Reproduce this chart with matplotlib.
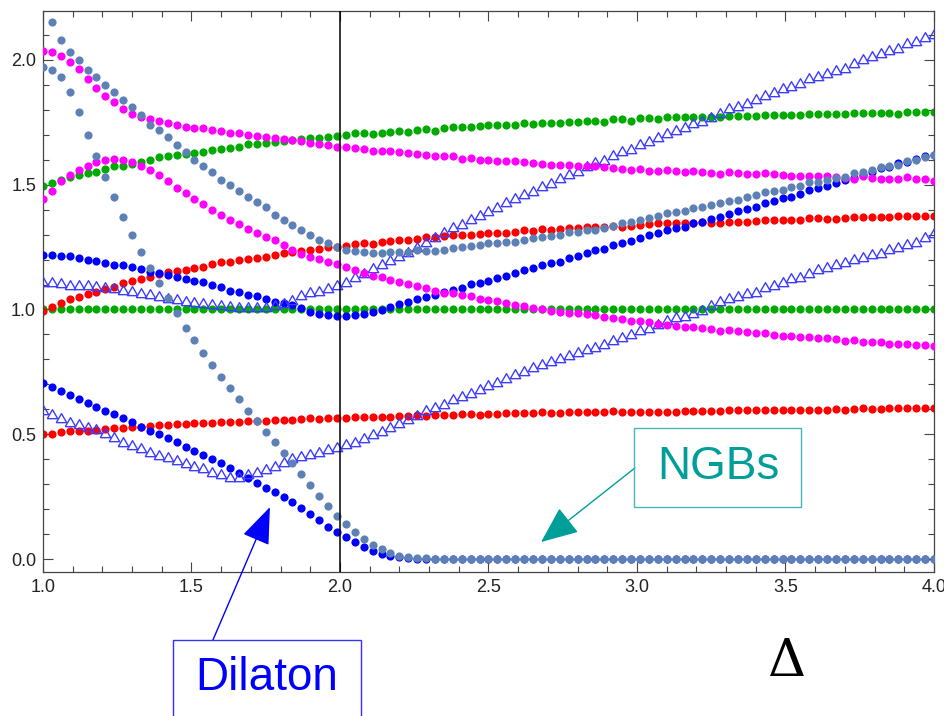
import numpy as np
import matplotlib
matplotlib.use("Agg")
import matplotlib.pyplot as plt
from matplotlib.patches import Rectangle
from matplotlib.ticker import MultipleLocator

# Delta grid (step 0.03 from 1.0 to 4.0)
delta = np.round(1.0 + 0.03 * np.arange(101), 2)

sb_upper = [2.24, 2.15, 2.08, 2.03, 2.00, 1.96, 1.93, 1.90, 1.87, 1.84,
            1.81, 1.78, 1.74, 1.72, 1.69, 1.66, 1.63, 1.60, 1.575, 1.55,
            1.52, 1.50, 1.475, 1.45, 1.43, 1.41, 1.38, 1.36, 1.34, 1.32,
            1.30, 1.28, 1.265, 1.25, 1.24, 1.235, 1.23, 1.225, 1.225, 1.23,
            1.23, 1.23, 1.24, 1.235, 1.235, 1.24, 1.245, 1.25, 1.255, 1.26,
            1.265, 1.265, 1.27, 1.27, 1.28, 1.285, 1.29, 1.295, 1.30, 1.31,
            1.31, 1.32, 1.32, 1.325, 1.335, 1.345, 1.35, 1.36, 1.365, 1.375,
            1.385, 1.39, 1.395, 1.405, 1.41, 1.42, 1.425, 1.435, 1.44, 1.45,
            1.46, 1.47, 1.475, 1.48, 1.49, 1.495, 1.51, 1.51, 1.52, 1.525,
            1.53, 1.545, 1.55, 1.56, 1.57, 1.575, 1.58, 1.595, 1.60, 1.61,
            1.62]

sb_lower = [1.97, 1.96, 1.93, 1.87, 1.79, 1.70, 1.615, 1.53, 1.45, 1.37,
            1.30, 1.23, 1.165, 1.105, 1.045, 0.985, 0.927, 0.878, 0.827, 0.776,
            0.731, 0.684, 0.64, 0.594, 0.552, 0.51, 0.467, 0.425, 0.384, 0.341,
            0.297, 0.254, 0.212, 0.172, 0.139, 0.107, 0.079, 0.056, 0.039, 0.025,
            0.013, 0.009, 0.005, 0.003, 0.002, 0.001, 0, 0, 0, 0,
            0, 0, 0, 0, 0, 0, 0, 0, 0, 0,
            0, 0, 0, 0, 0, 0, 0, 0, 0, 0,
            0, 0, 0, 0, 0, 0, 0, 0, 0, 0,
            0, 0, 0, 0, 0, 0, 0, 0, 0, 0,
            0, 0, 0, 0, 0, 0, 0, 0, 0, 0,
            0]

magenta_upper = [2.037, 2.03, 2.014, 1.99, 1.962, 1.924, 1.889, 1.857, 1.83, 1.804,
                 1.782, 1.773, 1.762, 1.756, 1.746, 1.739, 1.733, 1.726, 1.726, 1.719,
                 1.716, 1.709, 1.706, 1.699, 1.696, 1.693, 1.686, 1.683, 1.679, 1.674,
                 1.668, 1.662, 1.659, 1.653, 1.653, 1.646, 1.642, 1.636, 1.635, 1.635,
                 1.632, 1.626, 1.623, 1.619, 1.613, 1.615, 1.613, 1.602, 1.606, 1.597,
                 1.599, 1.595, 1.593, 1.593, 1.589, 1.586, 1.583, 1.579, 1.577, 1.579,
                 1.573, 1.575, 1.573, 1.569, 1.566, 1.562, 1.559, 1.562, 1.556, 1.556,
                 1.559, 1.553, 1.55, 1.553, 1.55, 1.546, 1.543, 1.55, 1.546, 1.543,
                 1.543, 1.546, 1.543, 1.539, 1.533, 1.535, 1.536, 1.536, 1.533, 1.53,
                 1.528, 1.523, 1.533, 1.526, 1.523, 1.523, 1.523, 1.53, 1.523, 1.523,
                 1.515]

magenta_lower = [1.443, 1.476, 1.515, 1.539, 1.559, 1.576, 1.589, 1.597, 1.603, 1.597,
                 1.589, 1.575, 1.559, 1.539, 1.516, 1.488, 1.466, 1.442, 1.422, 1.399,
                 1.379, 1.359, 1.343, 1.321, 1.308, 1.292, 1.278, 1.259, 1.24, 1.222,
                 1.212, 1.202, 1.192, 1.182, 1.172, 1.158, 1.145, 1.134, 1.129, 1.118,
                 1.112, 1.101, 1.096, 1.085, 1.075, 1.067, 1.067, 1.058, 1.052, 1.041,
                 1.038, 1.032, 1.025, 1.018, 1.012, 1.007, 1.0, 0.995, 0.991, 0.987,
                 0.984, 0.98, 0.978, 0.971, 0.964, 0.96, 0.955, 0.955, 0.951, 0.942,
                 0.938, 0.934, 0.929, 0.929, 0.925, 0.921, 0.915, 0.917, 0.915, 0.909,
                 0.905, 0.905, 0.898, 0.894, 0.894, 0.891, 0.889, 0.885, 0.885, 0.881,
                 0.874, 0.877, 0.871, 0.871, 0.868, 0.862, 0.862, 0.86, 0.858, 0.858,
                 0.854]

green_upper = [1.495, 1.508, 1.519, 1.53, 1.539, 1.545, 1.552, 1.561, 1.573, 1.576,
               1.582, 1.59, 1.599, 1.61, 1.613, 1.617, 1.623, 1.627, 1.63, 1.639,
               1.643, 1.649, 1.653, 1.663, 1.663, 1.666, 1.67, 1.677, 1.681, 1.683,
               1.687, 1.689, 1.69, 1.695, 1.699, 1.706, 1.706, 1.702, 1.709, 1.713,
               1.717, 1.71, 1.719, 1.722, 1.717, 1.726, 1.73, 1.73, 1.733, 1.735,
               1.739, 1.739, 1.739, 1.739, 1.746, 1.742, 1.749, 1.746, 1.746, 1.753,
               1.75, 1.757, 1.757, 1.753, 1.762, 1.762, 1.757, 1.766, 1.766, 1.762,
               1.77, 1.77, 1.77, 1.773, 1.773, 1.773, 1.773, 1.777, 1.777, 1.777,
               1.777, 1.78, 1.78, 1.78, 1.78, 1.78, 1.784, 1.784, 1.784, 1.784,
               1.784, 1.789, 1.789, 1.789, 1.789, 1.789, 1.784, 1.793, 1.793, 1.793,
               1.793]

green_lower = [1.0, 1.0, 1.0, 1.0, 1.0, 1.0, 1.0, 1.0, 1.0, 1.0,
               1.0, 1.0, 1.0, 1.0, 1.0, 1.0, 1.0, 1.0, 1.0, 1.0,
               1.0, 1.0, 1.0, 1.0, 1.0, 1.0, 1.0, 1.0, 1.0, 1.0,
               1.0, 1.0, 1.0, 1.0, 1.0, 1.0, 1.0, 1.0, 1.0, 1.0,
               1.0, 1.0, 1.0, 1.0, 1.0, 1.0, 1.0, 1.0, 1.0, 1.0,
               1.0, 1.0, 1.0, 1.0, 1.0, 1.0, 1.0, 1.0, 1.0, 1.0,
               1.0, 1.0, 1.0, 1.0, 1.0, 1.0, 1.0, 1.0, 1.0, 1.0,
               1.0, 1.0, 1.0, 1.0, 1.0, 1.0, 1.0, 1.0, 1.0, 1.0,
               1.0, 1.0, 1.0, 1.0, 1.0, 1.0, 1.0, 1.0, 1.0, 1.0,
               1.0, 1.0, 1.0, 1.0, 1.0, 1.0, 1.0, 1.0, 1.0, 1.0,
               1.0]

red_upper = [0.995, 1.008, 1.027, 1.042, 1.051, 1.062, 1.071, 1.081, 1.092, 1.105,
             1.114, 1.121, 1.131, 1.141, 1.149, 1.156, 1.158, 1.165, 1.172, 1.181,
             1.189, 1.192, 1.198, 1.201, 1.208, 1.212, 1.218, 1.225, 1.232, 1.236,
             1.239, 1.242, 1.249, 1.252, 1.256, 1.263, 1.265, 1.263, 1.269, 1.275,
             1.279, 1.279, 1.281, 1.289, 1.292, 1.295, 1.299, 1.299, 1.299, 1.301,
             1.305, 1.305, 1.308, 1.312, 1.319, 1.315, 1.321, 1.319, 1.323, 1.325,
             1.325, 1.332, 1.33, 1.332, 1.335, 1.332, 1.335, 1.339, 1.341, 1.345,
             1.345, 1.348, 1.345, 1.348, 1.352, 1.345, 1.348, 1.352, 1.352, 1.352,
             1.356, 1.359, 1.359, 1.359, 1.359, 1.359, 1.365, 1.365, 1.362, 1.362,
             1.365, 1.369, 1.369, 1.369, 1.369, 1.369, 1.375, 1.375, 1.375, 1.375,
             1.375]

red_lower = [0.501, 0.501, 0.51, 0.513, 0.513, 0.514, 0.517, 0.521, 0.524, 0.527,
             0.53, 0.53, 0.533, 0.537, 0.537, 0.54, 0.541, 0.544, 0.544, 0.547,
             0.548, 0.551, 0.551, 0.553, 0.555, 0.555, 0.557, 0.559, 0.559, 0.561,
             0.564, 0.56, 0.564, 0.567, 0.564, 0.568, 0.571, 0.568, 0.568, 0.571,
             0.573, 0.573, 0.577, 0.573, 0.577, 0.577, 0.577, 0.58, 0.581, 0.577,
             0.58, 0.58, 0.584, 0.584, 0.586, 0.586, 0.59, 0.584, 0.586, 0.588,
             0.588, 0.59, 0.588, 0.59, 0.593, 0.59, 0.59, 0.589, 0.588, 0.589,
             0.59, 0.59, 0.593, 0.594, 0.593, 0.594, 0.594, 0.597, 0.597, 0.597,
             0.597, 0.597, 0.597, 0.597, 0.597, 0.597, 0.598, 0.598, 0.598, 0.601,
             0.598, 0.601, 0.604, 0.601, 0.601, 0.604, 0.604, 0.606, 0.606, 0.606,
             0.606]

blue_upper = [1.218, 1.218, 1.215, 1.214, 1.208, 1.20, 1.195, 1.188, 1.18, 1.178,
              1.169, 1.162, 1.152, 1.148, 1.138, 1.132, 1.122, 1.116, 1.109, 1.098,
              1.09, 1.075, 1.068, 1.058, 1.054, 1.042, 1.031, 1.025, 1.018, 1.005,
              0.99, 0.982, 0.978, 0.975, 0.974, 0.978, 0.982, 0.988, 0.998, 1.008,
              1.02, 1.028, 1.041, 1.049, 1.058, 1.069, 1.078, 1.085, 1.101, 1.108,
              1.116, 1.125, 1.135, 1.145, 1.158, 1.165, 1.178, 1.185, 1.192, 1.208,
              1.216, 1.225, 1.238, 1.242, 1.258, 1.265, 1.276, 1.287, 1.297, 1.307,
              1.319, 1.325, 1.332, 1.345, 1.352, 1.361, 1.372, 1.383, 1.396, 1.403,
              1.41, 1.426, 1.436, 1.446, 1.452, 1.462, 1.479, 1.486, 1.496, 1.506,
              1.519, 1.526, 1.539, 1.552, 1.566, 1.572, 1.586, 1.592, 1.602, 1.613,
              1.619]

blue_lower = [0.704, 0.69, 0.673, 0.657, 0.641, 0.624, 0.608, 0.594, 0.58, 0.564,
              0.548, 0.53, 0.513, 0.50, 0.484, 0.468, 0.45, 0.434, 0.417, 0.40,
              0.384, 0.364, 0.345, 0.326, 0.306, 0.286, 0.267, 0.25, 0.228, 0.206,
              0.18, 0.156, 0.13, 0.108, 0.087, 0.067, 0.049, 0.033, 0.022, 0.012,
              0.007, 0.004, 0.002, 0.001, 0, 0, 0, 0, 0, 0,
              0, 0, 0, 0, 0, 0, 0, 0, 0, 0,
              0, 0, 0, 0, 0, 0, 0, 0, 0, 0,
              0, 0, 0, 0, 0, 0, 0, 0, 0, 0,
              0, 0, 0, 0, 0, 0, 0, 0, 0, 0,
              0, 0, 0, 0, 0, 0, 0, 0, 0, 0,
              0]

tri_upper = [1.111, 1.111, 1.108, 1.10, 1.10, 1.10, 1.095, 1.091, 1.087, 1.078,
             1.074, 1.065, 1.06, 1.054, 1.045, 1.04, 1.034, 1.03, 1.025, 1.02,
             1.016, 1.014, 1.01, 1.01, 1.011, 1.01, 1.018, 1.025, 1.038, 1.056,
             1.069, 1.075, 1.085, 1.098, 1.111, 1.129, 1.145, 1.165, 1.182, 1.198,
             1.214, 1.232, 1.249, 1.272, 1.292, 1.312, 1.329, 1.343, 1.363, 1.379,
             1.395, 1.412, 1.432, 1.446, 1.463, 1.475, 1.495, 1.508, 1.526, 1.543,
             1.556, 1.573, 1.59, 1.599, 1.619, 1.633, 1.642, 1.663, 1.677, 1.69,
             1.709, 1.719, 1.733, 1.749, 1.757, 1.77, 1.786, 1.806, 1.816, 1.826,
             1.842, 1.86, 1.873, 1.886, 1.896, 1.909, 1.926, 1.936, 1.949, 1.96,
             1.969, 1.989, 2.003, 2.014, 2.027, 2.04, 2.047, 2.067, 2.077, 2.091,
             2.104]

tri_lower = [0.597, 0.58, 0.564, 0.55, 0.54, 0.53, 0.52, 0.506, 0.49, 0.467,
             0.455, 0.443, 0.43, 0.418, 0.408, 0.397, 0.386, 0.374, 0.364, 0.35,
             0.341, 0.33, 0.33, 0.341, 0.347, 0.36, 0.374, 0.39, 0.404, 0.413,
             0.421, 0.43, 0.44, 0.448, 0.46, 0.47, 0.486, 0.50, 0.514, 0.53,
             0.544, 0.561, 0.577, 0.597, 0.61, 0.621, 0.64, 0.653, 0.667, 0.68,
             0.697, 0.711, 0.724, 0.74, 0.755, 0.768, 0.782, 0.794, 0.804, 0.818,
             0.828, 0.84, 0.851, 0.862, 0.878, 0.889, 0.90, 0.918, 0.925, 0.942,
             0.958, 0.969, 0.974, 0.987, 0.998, 1.018, 1.034, 1.047, 1.054, 1.065,
             1.071, 1.091, 1.10, 1.111, 1.125, 1.129, 1.145, 1.161, 1.172, 1.182,
             1.189, 1.201, 1.212, 1.221, 1.228, 1.241, 1.249, 1.263, 1.272, 1.289,
             1.305]

STEEL = "#5e81b5"
MAGENTA = "#ff00ff"
GREEN = "#00aa00"
RED = "#ff0000"
BLUE = "#0000ff"
TRI = "#3c3cff"
TEAL = "#009e99"

fig = plt.figure(figsize=(9.45, 7.16), dpi=100)
ax = fig.add_axes([43 / 945, 144 / 716, 891 / 945, 561 / 716])

dot = dict(ls="none", marker="o", ms=5.9, mew=0)
ax.plot(delta, green_lower, color=GREEN, zorder=2, **dot)
ax.plot(delta, green_upper, color=GREEN, zorder=2, **dot)
ax.plot(delta, red_upper, color=RED, zorder=2, **dot)
ax.plot(delta, red_lower, color=RED, zorder=2, **dot)
ax.plot(delta, blue_upper, color=BLUE, zorder=3, **dot)
ax.plot(delta, blue_lower, color=BLUE, zorder=3, **dot)

tri_marker = [(-1, -0.8), (1, -0.8), (0, 0.93), (-1, -0.8)]
for series in (tri_upper, tri_lower):
    ax.plot(delta, series, ls="none", marker=tri_marker, ms=7.5, mfc="none",
            mec=TRI, mew=1.0, zorder=3)

ax.plot(delta, magenta_upper, color=MAGENTA, zorder=4, **dot)
ax.plot(delta, magenta_lower, color=MAGENTA, zorder=4, **dot)
ax.plot(delta, sb_upper, color=STEEL, zorder=5, **dot)
ax.plot(delta, sb_lower, color=STEEL, zorder=5, **dot)

ax.axvline(2.0, color="black", lw=1.1, zorder=6)

ax.set_xlim(1.0, 4.0)
ax.set_ylim(-0.052, 2.196)
ax.xaxis.set_major_locator(MultipleLocator(0.5))
ax.xaxis.set_minor_locator(MultipleLocator(0.1))
ax.yaxis.set_major_locator(MultipleLocator(0.5))
ax.yaxis.set_minor_locator(MultipleLocator(0.1))
ax.xaxis.set_major_formatter(plt.FuncFormatter(lambda v, p: f"{v:.1f}"))
ax.yaxis.set_major_formatter(plt.FuncFormatter(lambda v, p: f"{v:.1f}"))

for s in ax.spines.values():
    s.set_color("#444444")
    s.set_linewidth(0.9)
ax.tick_params(which="both", direction="in", top=True, right=True,
               color="#444444", width=0.8)
ax.tick_params(which="major", length=7, labelsize=13, pad=5, labelcolor="#222222")
ax.tick_params(which="minor", length=4)
for lab in ax.get_xticklabels() + ax.get_yticklabels():
    lab.set_family("Liberation Sans")

# NGBs annotation
ngb_box = Rectangle((634 / 945, 1 - 507 / 716), 167 / 945, 79 / 716,
                    transform=fig.transFigure, fill=False, ec="#44b8b8", lw=1.0)
fig.add_artist(ngb_box)
fig.text(718 / 945, 1 - 467 / 716, "NGBs", color=TEAL, fontsize=33,
         family="Liberation Sans", ha="center", va="center")
ax.annotate("", xy=(2.677, 0.068), xytext=(2.993, 0.365),
            arrowprops=dict(arrowstyle="-|>,head_length=1.3,head_width=0.55",
                            mutation_scale=18, color=TEAL, lw=1.0,
                            shrinkA=0, shrinkB=0),
            annotation_clip=False, zorder=7)

# Dilaton annotation
dil_box = Rectangle((173 / 945, -0.05), 188 / 945, (1 - 640 / 716) + 0.05,
                    transform=fig.transFigure, fill=False, ec="#3030ff", lw=1.0,
                    clip_on=False)
fig.add_artist(dil_box)
fig.text(267 / 945, 1 - 678 / 716, "Dilaton", color=BLUE, fontsize=33,
         family="Liberation Sans", ha="center", va="center")
ax.annotate("", xy=(1.764, 0.208), xytext=(1.572, -0.325),
            arrowprops=dict(arrowstyle="-|>,head_length=1.3,head_width=0.5",
                            mutation_scale=18, color=BLUE, lw=1.0,
                            shrinkA=0, shrinkB=0),
            annotation_clip=False, zorder=7)

fig.text(787 / 945, 1 - 662 / 716, "Δ", color="black", fontsize=38,
         family="DejaVu Serif", ha="center", va="center")

fig.savefig("out.png", dpi=100)
